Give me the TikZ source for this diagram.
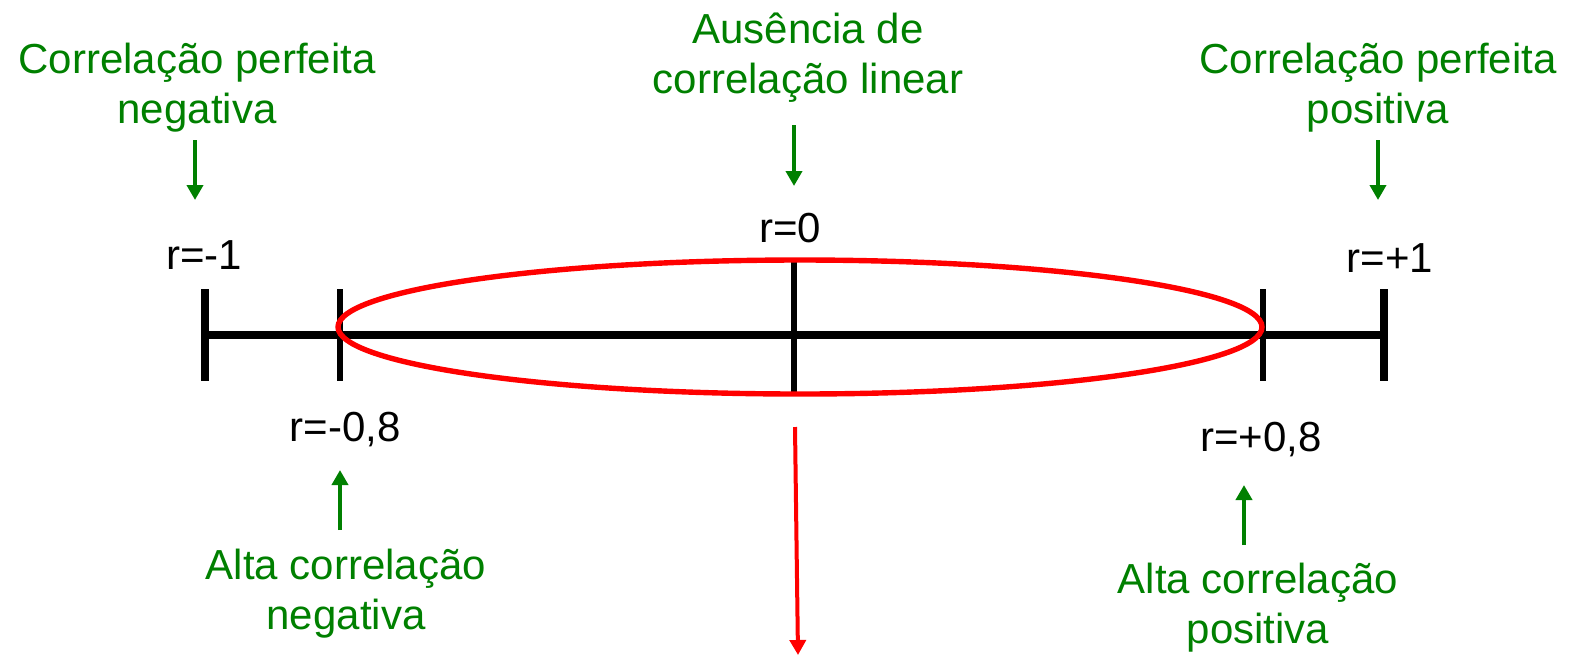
\documentclass[tikz,border=0pt]{standalone}
\usepackage{fontspec}
\setmainfont{Liberation Sans}
\usetikzlibrary{arrows.meta}
\definecolor{LabelGreen}{RGB}{0,128,0}
\definecolor{MarkRed}{RGB}{255,0,0}

\begin{document}
\begin{tikzpicture}[
    x=0.5pt, y=-0.5pt,
    font=\fontsize{21pt}{25pt}\selectfont,
    label/.style={text=LabelGreen, align=center, inner sep=0pt},
    value/.style={inner sep=0pt},
    garrow/.style={-{Triangle[width=8pt,length=7.5pt]}, line width=2pt, LabelGreen},
    rarrow/.style={-{Triangle[width=8pt,length=7.5pt]}, line width=2pt, MarkRed},
    axis/.style={line width=4pt},
    endtick/.style={line width=4pt},
    midtick/.style={line width=2.8pt}
  ]
  \useasboundingbox (0,0) rectangle (1570,655);

  % number line
  \coordinate (pm1) at (205,335);
  \coordinate (pm08) at (340,335);
  \coordinate (p0) at (794,335);
  \coordinate (pp08) at (1263,335);
  \coordinate (pp1) at (1384,335);
  \draw[axis] (pm1) -- (pp1);
  \draw[endtick] (pm1) ++(0,-46) -- ++(0,92);
  \draw[endtick] (pp1) ++(0,-46) -- ++(0,92);
  \draw[midtick] (pm08) ++(0,-46) -- ++(0,92);
  \draw[midtick] (pp08) ++(0,-46) -- ++(0,92);
  \draw[midtick] (p0) ++(0,-75) -- ++(0,132);

  \draw[MarkRed, line width=2.7pt] (800,327) ellipse [x radius=462, y radius=67];

  % values
  \node[value] (rm1) at (204,255) {r=-1};
  \node[value] (r0) at (790,228) {r=0};
  \node[value] (rp1) at (1390,258) {r=+1};
  \node[value] (rm08) at (345,430) {r=-0,8};
  \node[value] (rp08) at (1261,440) {r=+0,8};

  % labels
  \node[label] (perfneg) at (197,88) {Correlação perfeita\\negativa};
  \node[label] (ausencia) at (808,58) {Ausência de\\correlação linear};
  \node[label] (perfpos) at (1378,88) {Correlação perfeita\\positiva};
  \node[label] (altaneg) at (346,594) {Alta correlação\\negativa};
  \node[label] (altapos) at (1258,608) {Alta correlação\\positiva};

  % arrows
  \coordinate (a1s) at (195,140); \coordinate (a1e) at (195,200);
  \coordinate (a2s) at (794,125); \coordinate (a2e) at (794,186);
  \coordinate (a3s) at (1378,140); \coordinate (a3e) at (1378,200);
  \coordinate (a4s) at (340,530); \coordinate (a4e) at (340,470);
  \coordinate (a5s) at (1244,545); \coordinate (a5e) at (1244,485);
  \coordinate (a6s) at (795,427); \coordinate (a6e) at (798,655);
  \draw[garrow] (a1s) -- (a1e);
  \draw[garrow] (a2s) -- (a2e);
  \draw[garrow] (a3s) -- (a3e);
  \draw[garrow] (a4s) -- (a4e);
  \draw[garrow] (a5s) -- (a5e);
  \draw[rarrow] (a6s) -- (a6e);
\end{tikzpicture}
\end{document}
